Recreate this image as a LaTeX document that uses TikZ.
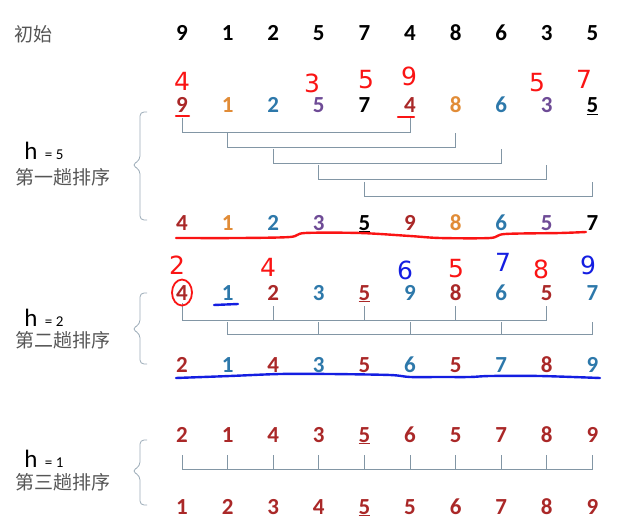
\documentclass[tikz,border=0pt]{standalone}
\usepackage{fontspec}
\setmainfont{Carlito}
\newfontfamily\cjk{Noto Sans CJK SC}
\newfontfamily\handfont{DejaVu Sans}
\usetikzlibrary{positioning}
\definecolor{dred}{RGB}{170,40,40}
\definecolor{nor}{RGB}{225,140,55}
\definecolor{nbl}{RGB}{45,120,170}
\definecolor{npu}{RGB}{110,75,150}
\definecolor{lgray}{RGB}{85,85,85}
\definecolor{bgray}{RGB}{130,150,165}
\definecolor{pen}{RGB}{250,20,20}
\definecolor{bpen}{RGB}{20,30,225}

\begin{document}
\begin{tikzpicture}[x=1pt,y=-1pt,
  num/.style={font=\fontsize{23}{23}\selectfont\bfseries,anchor=base,inner sep=0pt},
  hand/.style={font=\handfont\fontsize{25}{25}\selectfont,inner sep=0pt},
  lab/.style={font=\cjk\fontsize{19}{19}\selectfont,text=lgray,inner sep=0pt},
  hlab/.style={font=\fontsize{25}{25}\selectfont,anchor=base,inner sep=0pt},
  eqlab/.style={font=\fontsize{15}{15}\selectfont,anchor=base west,inner sep=0pt},
  bracket/.style={draw=bgray,line width=0.9pt},
  sbrace/.style={draw=bgray!80,line width=0.8pt,rounded corners=4pt},
  ink/.style={line width=2.4pt,line cap=round,line join=round}
]
\useasboundingbox (0,0) rectangle (625,527);

% rows of numbers
\node[lab] (init) at (33,34) {初始};
\foreach \v [count=\i] in {9,1,2,5,7,4,8,6,3,5}
  \node[num] (a\i) at ({182+45.6*(\i-1)},41) {\v};
\foreach \v/\c [count=\i] in {9/dred,1/nor,2/nbl,5/npu,7/black,4/dred,8/nor,6/nbl,3/npu,\underline{5}/black}
  \node[num,text=\c] (b\i) at ({182+45.6*(\i-1)},113) {\v};
\foreach \v/\c [count=\i] in {4/dred,1/nor,2/nbl,3/npu,\underline{5}/black,9/dred,8/nor,6/nbl,5/npu,7/black}
  \node[num,text=\c] (c\i) at ({182+45.6*(\i-1)},230) {\v};
\foreach \v/\c [count=\i] in {4/dred,1/nbl,2/dred,3/nbl,\underline{5}/dred,9/nbl,8/dred,6/nbl,5/dred,7/nbl}
  \node[num,text=\c] (d\i) at ({182+45.6*(\i-1)},300) {\v};
\foreach \v/\c [count=\i] in {2/dred,1/nbl,4/dred,3/nbl,5/dred,6/nbl,5/dred,7/nbl,8/dred,9/nbl}
  \node[num,text=\c] (e\i) at ({182+45.6*(\i-1)},372) {\v};
\foreach \v [count=\i] in {2,1,4,3,\underline{5},6,5,7,8,9}
  \node[num,text=dred] (f\i) at ({182+45.6*(\i-1)},442) {\v};
\foreach \v [count=\i] in {1,2,3,4,\underline{5},5,6,7,8,9}
  \node[num,text=dred] (g\i) at ({182+45.6*(\i-1)},514) {\v};

% labels
\node[hlab] (h1) at (31,160) {h};
\node[eqlab] (q1) at ([xshift=7pt]h1.base east) {= 5};
\node[lab] (t1) at (63,177) {第一趟排序};
\node[hlab] (h2) at (31,326) {h};
\node[eqlab] (q2) at ([xshift=7pt]h2.base east) {= 2};
\node[lab] (t2) at (63,340) {第二趟排序};
\node[hlab] (h3) at (31,467) {h};
\node[eqlab] (q3) at ([xshift=7pt]h3.base east) {= 1};
\node[lab] (t3) at (63,482) {第三趟排序};

\foreach \t/\m/\b in {112/165/220,293/329/364,440/471/505}
  \draw[sbrace] (147,\t) -- (140,\t) -- (140,\m-5) -- (132,\m) -- (140,\m+5) -- (140,\b) -- (147,\b);

% h = 5
\draw[bracket] (b1 |- 0,118) -- (b1 |- 0,132) -- (b6 |- 0,132) -- (b6 |- 0,118);
\foreach \i/\t/\y in {2/133/147,3/149/163,4/165/179,5/182/196}{
  \pgfmathtruncatemacro\j{\i+5}
  \draw[bracket] (b\i |- 0,\t) -- (b\i |- 0,\y) -- (b\j |- 0,\y) -- (b\j |- 0,\t);
}

% h = 2
\draw[bracket] (d1 |- 0,303) -- (d1 |- 0,320) -- (d9 |- 0,320) -- (d9 |- 0,306);
\foreach \i in {3,5,7}
  \draw[bracket] (d\i |- 0,306) -- (d\i |- 0,320);
\draw[bracket] (d2 |- 0,322) -- (d2 |- 0,334) -- (d10 |- 0,334) -- (d10 |- 0,322);
\foreach \i in {4,6,8}
  \draw[bracket] (d\i |- 0,322) -- (d\i |- 0,334);

% h = 1
\draw[bracket] (f1 |- 0,455) -- (f1 |- 0,469) -- (f10 |- 0,469) -- (f10 |- 0,455);
\foreach \i in {2,...,9}
  \draw[bracket] (f\i |- 0,455) -- (f\i |- 0,469);

% pen notes
\node[hand,text=pen] (w1) at (182,81) {4};
\node[hand,text=pen] (w2) at (312,83) {3};
\node[hand,text=pen] (w3) at (366,80) {5};
\node[hand,text=pen] (w4) at (409,76) {9};
\node[hand,text=pen] (w5) at (537,83) {5};
\node[hand,text=pen] (w6) at (584,79) {7};
\draw[ink,pen] (176,116) -- (189,116);
\draw[ink,pen] (398,117) -- (414,117);
\draw[ink,pen] plot[smooth] coordinates {(176,238) (240,238) (290,237) (305,233) (360,233) (410,236) (440,238) (490,238) (505,234) (560,233) (586,232)};

\node[hand,text=pen] (v1) at (177,265) {2};
\node[hand,text=pen] (v2) at (268,267) {4};
\node[hand,text=bpen] (v3) at (405,270) {6};
\node[hand,text=pen] (v4) at (456,269) {5};
\node[hand,text=bpen] (v5) at (503,262) {7};
\node[hand,text=pen] (v6) at (541,269) {8};
\node[hand,text=bpen] (v7) at (588,265) {9};
\draw[ink,pen,line width=1.8pt] (d1.center) ellipse (10 and 13);
\draw[ink,bpen] (214,305) -- (238,304);
\draw[ink,bpen] plot[smooth] coordinates {(176,378) (230,376) (280,374) (330,374) (390,375) (410,377) (440,377) (470,377) (490,376) (540,376) (600,378)};
\end{tikzpicture}
\end{document}
